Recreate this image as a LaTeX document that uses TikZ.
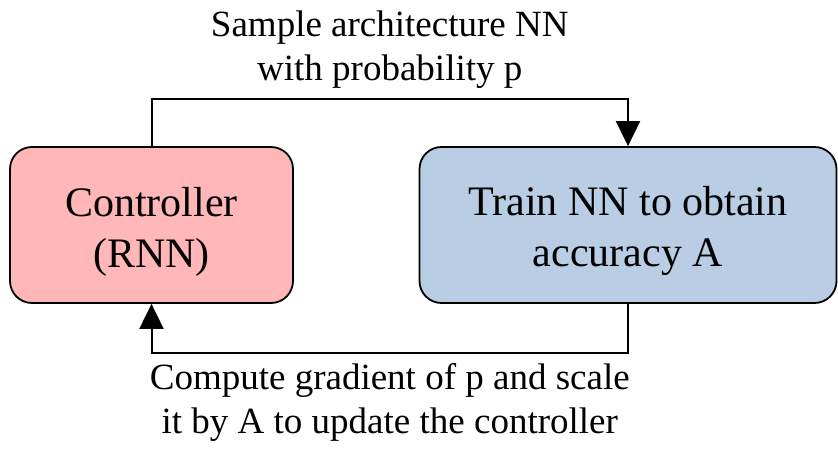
\documentclass[tikz,border=0pt]{standalone}
\usepackage{fontspec}
\setmainfont{LiberationSerif}[Extension=.ttf, UprightFont=*-Regular, BoldFont=*-Bold, ItalicFont=*-Italic]
\usetikzlibrary{arrows.meta, positioning}
\definecolor{ctrlpink}{RGB}{255,183,183}
\definecolor{trainblue}{RGB}{185,205,228}

\begin{document}
\begin{tikzpicture}[x=1pt, y=1pt,
                    box/.style={draw, line width=1.8pt, rounded corners=22pt, minimum height=156pt, align=center, font=\fontsize{42}{51}\selectfont, text height=93pt},
                    lbl/.style={align=center, inner sep=0pt, font=\fontsize{37}{44}\selectfont},
                    link/.style={line width=2pt, -{Triangle[width=24pt, length=25pt]}}]
                \useasboundingbox (0,0) rectangle (838,453);
                \node[box, fill=ctrlpink, minimum width=283pt] (ctrl) at (151.5, 228) {Controller\\(RNN)};
                \node[box, fill=trainblue, minimum width=417pt] (train) at (628, 228) {Train NN to obtain\\accuracy A};
                \draw[link] (ctrl.north) -- ++(0,47) -| node[pos=0.25, lbl, above=10pt] (samp) {Sample architecture NN\\with probability p} (train.north);
                \draw[link] (train.south) -- ++(0,-49) -| node[pos=0.25, lbl, below=10pt] (grad) {Compute gradient of p and scale\\it by A to update the controller} (ctrl.south);
            \end{tikzpicture}
\end{document}
